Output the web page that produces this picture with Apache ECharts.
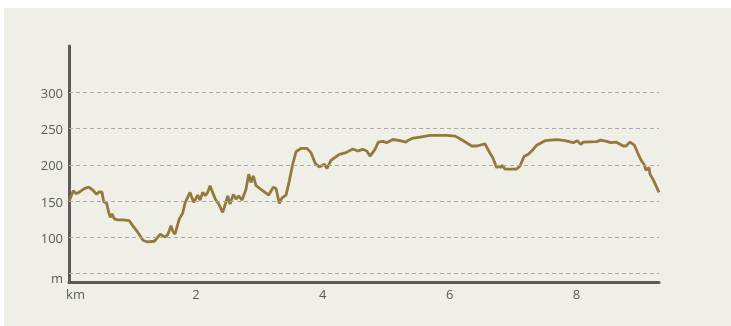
<!DOCTYPE html>
<html>
<head>
<meta charset="utf-8">
<script src="https://cdn.jsdelivr.net/npm/echarts@6/dist/echarts.min.js"></script>
<style>
  html, body { margin: 0; padding: 0; background: #fff; }
  #wrap { position: relative; width: 731px; height: 326px; background: #fff; }
  #chart { position: absolute; left: 4px; top: 8px; width: 727px; height: 318px; }
</style>
</head>
<body>
<div id="wrap"><div id="chart"></div></div>
<script>
// distance along the route (km)
const km = [
  0, 0.068, 0.11, 0.162, 0.241, 0.311, 0.374, 0.437, 0.478, 0.52,
  0.547, 0.594, 0.626, 0.651, 0.678, 0.714, 0.768, 0.846, 0.95, 1.004,
  1.083, 1.171, 1.241, 1.345, 1.439, 1.509, 1.556, 1.608, 1.635, 1.671,
  1.739, 1.792, 1.833, 1.907, 1.966, 2.029, 2.065, 2.108, 2.148, 2.186,
  2.223, 2.254, 2.306, 2.36, 2.423, 2.464, 2.502, 2.538, 2.59, 2.632,
  2.675, 2.727, 2.79, 2.833, 2.869, 2.905, 2.948, 3.026, 3.148, 3.22,
  3.263, 3.315, 3.357, 3.421, 3.473, 3.526, 3.578, 3.657, 3.747, 3.815,
  3.882, 3.946, 4.024, 4.067, 4.13, 4.261, 4.366, 4.472, 4.551, 4.629,
  4.693, 4.745, 4.771, 4.823, 4.876, 4.945, 5.008, 5.103, 5.218, 5.308,
  5.348, 5.427, 5.533, 5.69, 5.954, 6.084, 6.163, 6.348, 6.427, 6.557,
  6.636, 6.679, 6.742, 6.778, 6.81, 6.83, 6.873, 7.057, 7.109, 7.172,
  7.24, 7.293, 7.372, 7.503, 7.688, 7.818, 7.949, 8.012, 8.066, 8.107,
  8.318, 8.381, 8.476, 8.539, 8.622, 8.737, 8.78, 8.843, 8.911, 8.974,
  9.027, 9.064, 9.095, 9.143, 9.158, 9.21, 9.3
];
// elevation (m)
const elevation = [
  149, 164, 160, 162, 167, 169, 165, 159, 162.5, 162,
  149, 146.5, 134, 127, 132, 125, 123.5, 123.5, 122.5, 115.6,
  106.5, 95, 93, 94, 104, 99.6, 103, 115.6, 108, 104,
  125, 133, 148, 161.7, 148, 158, 151, 161.7, 157, 161.7,
  171, 164, 152.4, 145.5, 134, 145.5, 157, 145.5, 159, 152.4,
  157, 151, 166, 187, 175.5, 184.5, 171, 166, 158, 169,
  167, 146.5, 154, 158, 177.7, 200.7, 218, 222.8, 222.8, 216.8,
  201.7, 197, 200.7, 195, 206, 214.5, 216.8, 221.8, 219, 221.4,
  219, 212, 210, 221.4, 231.4, 232.4, 230.6, 235, 233.4, 231.4,
  234, 237, 238.3, 240.7, 240.7, 239.7, 236, 226, 226, 229,
  216, 210, 196, 198.3, 196, 199.3, 194, 194, 198.3, 211.3,
  214.5, 219, 227, 233.4, 234.8, 233.4, 230.6, 233.4, 228.3, 231.4,
  232, 234.2, 232.4, 230.6, 231.4, 226, 226, 231.4, 227.3, 214.5,
  205, 200.7, 192.4, 196, 187, 179, 161.7
];
const xTicks = [0, 2, 4, 6, 8];
const yTicks = [50, 100, 150, 200, 250, 300];

const lineColor = "#95793a";
const textColor = "#5a5a5a";
const font = "'Open Sans', sans-serif";

const chart = echarts.init(document.getElementById("chart"));
const points = km.map((k, i) => [k, elevation[i]]);

chart.setOption({
  animation: false,
  backgroundColor: "#efeee7",
  grid: { left: 65, top: 38, right: 72, bottom: 44 },
  xAxis: {
    type: "value",
    min: 0,
    max: 9.3,
    axisLine: { lineStyle: { color: "#5a5a5a", width: 3 } },
    axisTick: { show: false },
    splitLine: { show: false },
    axisLabel: {
      customValues: xTicks,
      margin: 7,
      color: textColor,
      fontFamily: font,
      fontSize: 13,
      formatter: (v) => (v === 0 ? "{km|km}" : String(v)),
      rich: {
        km: { padding: [0, 0, 0, 13], color: textColor, fontFamily: font, fontSize: 13 },
      },
    },
  },
  yAxis: {
    type: "value",
    min: 37.5,
    max: 364.6,
    axisLine: { show: true, lineStyle: { color: "#5a5a5a", width: 3 } },
    axisTick: { show: false },
    splitLine: { show: false },
    axisLabel: {
      customValues: yTicks,
      margin: 6,
      color: textColor,
      fontFamily: font,
      fontSize: 13,
      formatter: (v) => (v === 50 ? "{m|m}" : "{n|" + v + "}"),
      rich: {
        n: { padding: [4, 0, 0, 0], color: textColor, fontFamily: font, fontSize: 13 },
        m: { padding: [13, 0, 0, 0], color: textColor, fontFamily: font, fontSize: 13 },
      },
    },
  },
  series: [
    {
      // dashed height guides
      type: "line",
      z: 1,
      data: points,
      showSymbol: false,
      lineStyle: { opacity: 0 },
      silent: true,
      markLine: {
        silent: true,
        symbol: "none",
        label: { show: false },
        lineStyle: { type: [4, 3], color: "#a9a9a6", width: 1 },
        data: yTicks.map((v) => ({ yAxis: v })),
      },
    },
    {
      type: "line",
      z: 3,
      data: points,
      showSymbol: false,
      lineStyle: { color: lineColor, width: 2.8 },
    },
  ],
});
</script>
</body>
</html>
